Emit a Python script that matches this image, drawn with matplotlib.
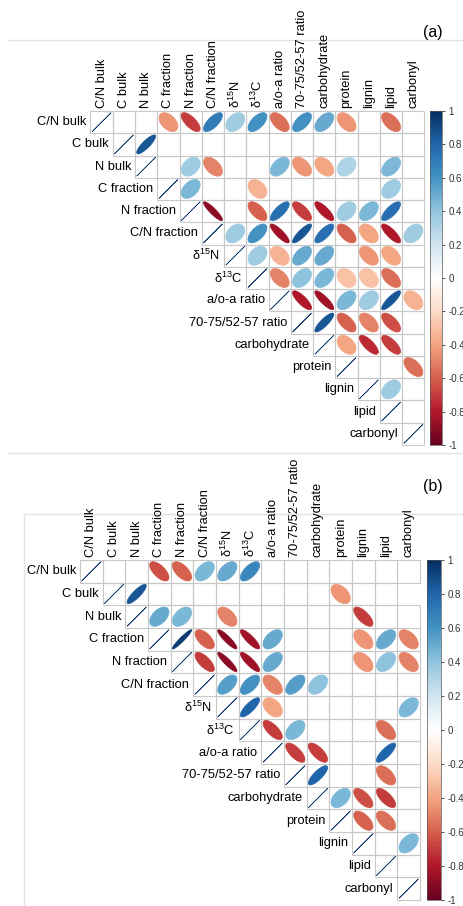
import numpy as np
import matplotlib.pyplot as plt
from matplotlib.colors import LinearSegmentedColormap, Normalize
from matplotlib.patches import Polygon, Rectangle
from matplotlib.lines import Line2D
import matplotlib.cm as cm

plt.rcParams['font.family'] = ['Liberation Sans', 'DejaVu Sans']
plt.rcParams['mathtext.fontset'] = 'custom'
plt.rcParams['mathtext.rm'] = 'Liberation Sans'
plt.rcParams['mathtext.it'] = 'Liberation Sans:italic'

labels = ["C/N bulk", "C bulk", "N bulk", "C fraction", "N fraction", "C/N fraction",
          r"δ$^{15}$N", r"δ$^{13}$C", "a/o-a ratio", "70-75/52-57 ratio",
          "carbohydrate", "protein", "lignin", "lipid", "carbonyl"]

na = np.nan
# upper triangle only: row i starts at the diagonal, nan = not significant
corr_a = [
    [1, na, na, -0.45, -0.7, 0.7, 0.35, 0.6, -0.55, 0.6, 0.5, -0.45, na, -0.55, na],
    [1, 0.85, na, na, na, na, na, na, na, na, na, na, na, na],
    [1, na, 0.35, -0.5, na, na, 0.45, -0.45, -0.4, 0.3, na, 0.45, na],
    [1, 0.45, na, na, -0.35, na, na, na, na, na, 0.35, na],
    [1, -0.9, na, -0.6, 0.75, -0.7, -0.8, 0.35, 0.45, 0.75, na],
    [1, 0.35, 0.6, -0.85, 0.85, 0.75, -0.6, -0.4, -0.8, 0.35],
    [1, 0.35, -0.35, 0.5, 0.5, na, -0.45, -0.4, na],
    [1, -0.5, 0.4, 0.45, -0.3, -0.3, -0.55, na],
    [1, -0.8, -0.85, 0.45, 0.35, 0.85, -0.35],
    [1, 0.85, -0.6, -0.5, -0.65, na],
    [1, -0.4, -0.75, -0.7, na],
    [1, na, na, -0.55],
    [1, 0.35, na],
    [1, na],
    [1],
]

corr_b = [
    [1, na, na, -0.65, -0.6, 0.45, 0.5, 0.65, na, na, na, na, na, na, na],
    [1, 0.85, na, na, na, na, na, na, na, na, -0.45, na, na],
    [1, 0.5, 0.45, na, -0.5, na, na, na, na, na, -0.7, na, na],
    [1, 0.95, -0.6, -0.9, -0.85, 0.5, na, na, na, -0.45, 0.5, -0.5],
    [1, -0.7, -0.9, -0.85, 0.5, na, na, na, -0.45, 0.4, -0.5],
    [1, 0.55, 0.6, -0.5, 0.55, 0.4, na, na, na, na],
    [1, 0.8, -0.4, na, na, na, na, na, 0.45],
    [1, -0.7, 0.45, na, na, na, -0.55, na],
    [1, -0.7, -0.7, na, na, 0.8, na],
    [1, 0.8, na, na, -0.55, na],
    [1, 0.45, -0.65, -0.7, na],
    [1, -0.6, -0.55, na],
    [1, na, 0.45],
    [1, na],
    [1],
]

cb_ticks = [1, 0.8, 0.6, 0.4, 0.2, 0, -0.2, -0.4, -0.6, -0.8, -1]
cb_ticklabels = ["1", "0.8", "0.6", "0.4", "0.2", "0", "-0.2", "-0.4", "-0.6", "-0.8", "-1"]

rdbu = LinearSegmentedColormap.from_list(
    "corr_rdbu", ["#67001F", "#B2182B", "#D6604D", "#F4A582", "#FDDBC7", "#FFFFFF",
                  "#D1E5F0", "#92C5DE", "#4393C3", "#2166AC", "#053061"], N=200)
norm = Normalize(-1, 1)

W, H = 464, 906
fig = plt.figure(figsize=(W / 100, H / 100), dpi=100)


def px_axes(x0, y0, x1, y1):
    return fig.add_axes([x0 / W, 1 - y1 / H, (x1 - x0) / W, (y1 - y0) / H])


def ellipse(rho, cx, cy, s=0.85):
    t = np.linspace(0, 2 * np.pi, 99)
    d = np.arccos(np.clip(rho, -1, 1))
    x = np.cos(t + d / 2) / 2 * s
    y = np.cos(t - d / 2) / 2 * s
    return np.column_stack([cx + x, cy - y])


def draw_panel(ax, cax, corr):
    n = len(labels)
    ax.set_xlim(0, n)
    ax.set_ylim(n, 0)
    ax.axis('off')
    for i, row in enumerate(corr):
        for k, r in enumerate(row):
            j = i + k
            ax.add_patch(Rectangle((j, i), 1, 1, fill=False, ec='#c8c8c8', lw=0.8, clip_on=False))
            if np.isnan(r):
                continue
            c = rdbu(norm(r))
            ax.add_patch(Polygon(ellipse(r, j + 0.5, i + 0.5), closed=True,
                                 fc=c, ec=c, lw=0.45 if k == 0 else 0.5, clip_on=False))
        ax.text(i - 0.18, i + 0.5, labels[i], ha='right', va='center', fontsize=9.3)
    for j in range(n):
        ax.text(j + 0.5, -0.15, labels[j], rotation=90, ha='center', va='bottom', fontsize=9.3)

    cb = fig.colorbar(cm.ScalarMappable(norm=norm, cmap=rdbu), cax=cax, ticks=cb_ticks)
    cb.ax.set_yticklabels(cb_ticklabels)
    cb.ax.tick_params(labelsize=7, length=2.5, width=0.6, pad=2, colors='#333333')
    cb.outline.set_linewidth(0.5)
    cb.outline.set_edgecolor('#555555')


# (a)
ax_a = px_axes(90.5, 111, 424.5, 445)
cax_a = px_axes(430, 111, 442, 445)
draw_panel(ax_a, cax_a, corr_a)
fig.text(432.5 / W, 1 - 32 / H, "(a)", ha='center', va='center', fontsize=11.5)

# (b)
ax_b = px_axes(80, 560, 420, 900)
cax_b = px_axes(427, 560, 441, 900)
draw_panel(ax_b, cax_b, corr_b)
fig.text(433 / W, 1 - 487 / H, "(b)", ha='center', va='center', fontsize=11.5)

# thin rules separating the panels, kept behind the labels
line_kw = dict(color='#e2e2e2', lw=1, transform=fig.transFigure, zorder=-1)
fig.add_artist(Line2D([8 / W, 1], [1 - 40 / H] * 2, **line_kw))
fig.add_artist(Line2D([8 / W, 1], [1 - 453 / H] * 2, **line_kw))
fig.add_artist(Line2D([24 / W, 1], [1 - 514 / H] * 2, **line_kw))
fig.add_artist(Line2D([24 / W] * 2, [1 - 514 / H, 0], **line_kw))

fig.savefig("out.png", dpi=100)
